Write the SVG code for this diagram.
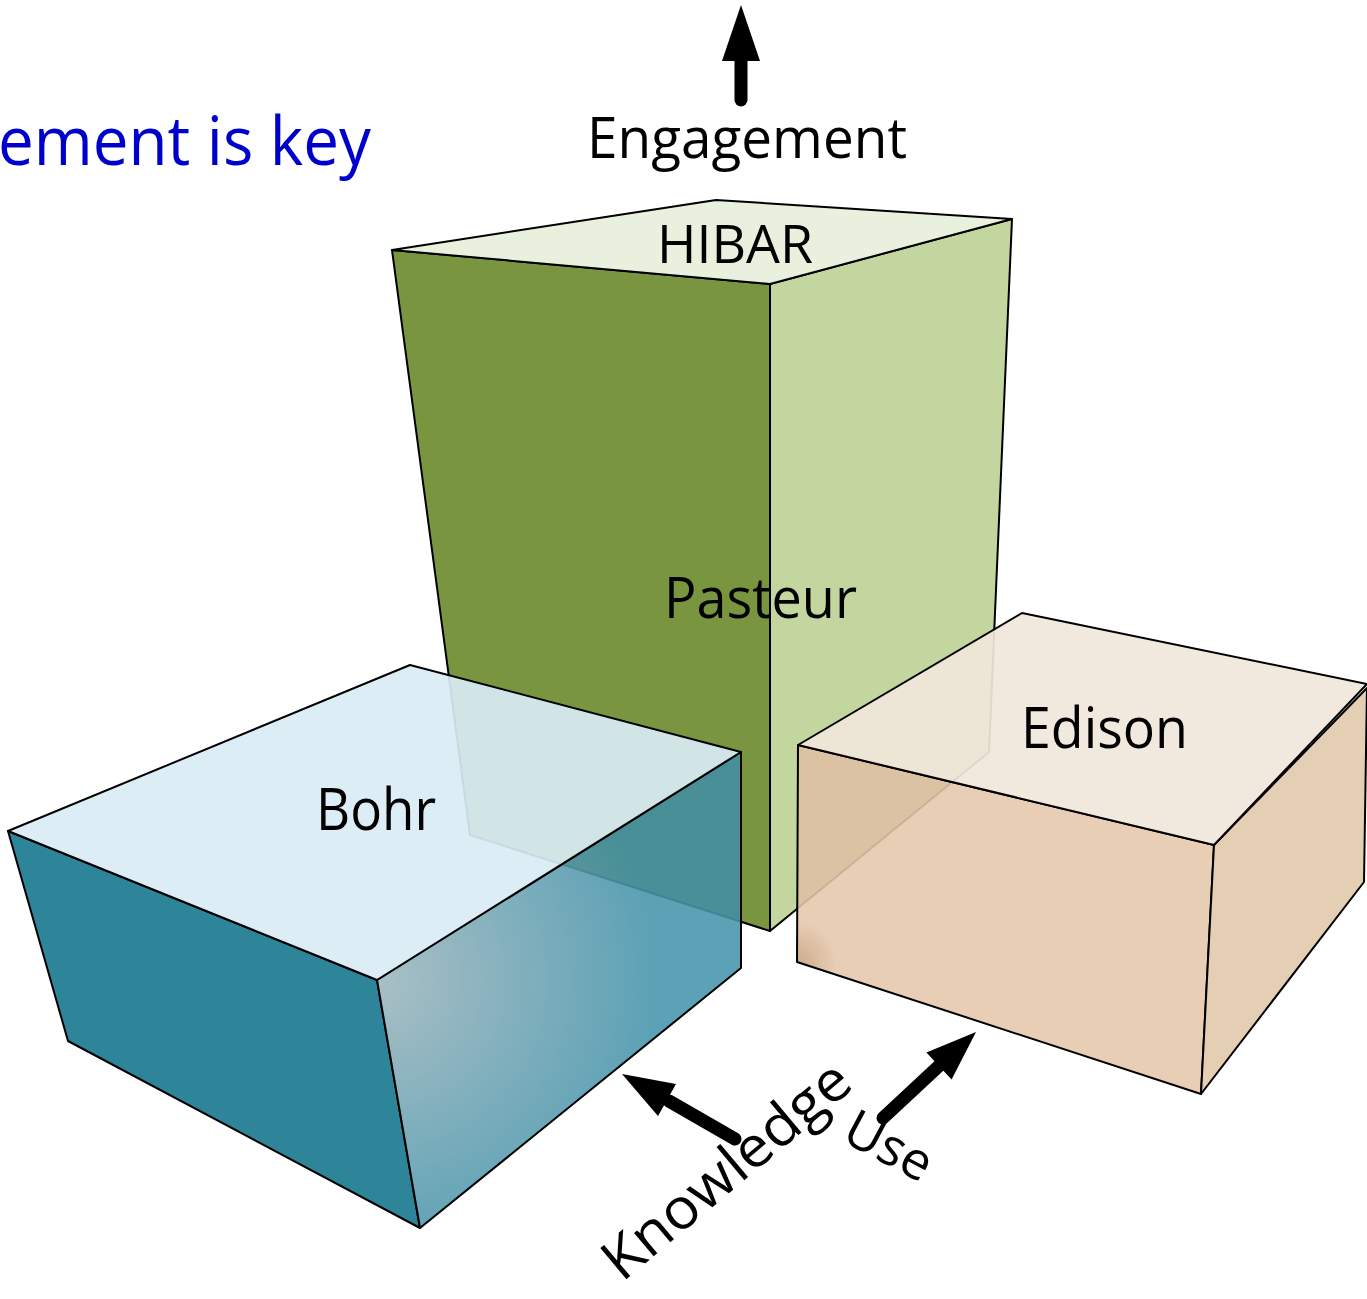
<svg xmlns="http://www.w3.org/2000/svg" width="1367" height="1299" viewBox="0 0 1367 1299">
<style>
.edge{stroke:#000;stroke-width:2;stroke-linejoin:round}
.lbl{font-family:"Open Sans","Liberation Sans",sans-serif;fill:#000}
.arr{stroke:#000;stroke-width:13;stroke-linecap:round;fill:none}
.head{fill:#000}
</style>
<defs>
<radialGradient id="bohrRight" gradientUnits="userSpaceOnUse" cx="378" cy="980" r="280">
<stop offset="0" stop-color="#a0b8bf"/>
<stop offset="1" stop-color="#4a97ad"/>
</radialGradient>
<radialGradient id="edisonSmudge" gradientUnits="userSpaceOnUse" cx="797" cy="962" r="40">
<stop offset="0" stop-color="#a87a52" stop-opacity="0.4"/>
<stop offset="1" stop-color="#a87a52" stop-opacity="0"/>
</radialGradient>
<clipPath id="clipBohrRight"><polygon points="377,980 741,752 741,968 420,1228"/></clipPath>
<clipPath id="clipEdisonFront"><polygon points="798,745 1214,845 1201,1094 797,962"/></clipPath>
</defs>
<rect width="1367" height="1299" fill="#fff"/>

<text class="lbl" x="-2" y="165" font-size="67" style="fill:#0000cc" textLength="373" lengthAdjust="spacingAndGlyphs">ement is key</text>

<g id="pasteur">
<polygon class="edge" points="392,250 770,284 770,931 470,835" fill="#7a9540"/>
<polygon class="edge" points="770,284 1012,219 989,752 770,931" fill="#c4d6a0"/>
<polygon class="edge" points="392,250 716,200 1012,219 770,284" fill="#e9f0dd"/>
<text class="lbl" x="657" y="263" font-size="53" textLength="156" lengthAdjust="spacingAndGlyphs">HIBAR</text>
<text class="lbl" x="664" y="618" font-size="57" textLength="193" lengthAdjust="spacingAndGlyphs">Pasteur</text>
</g>

<g id="edison">
<polygon points="798,745 1214,845 1201,1094 797,962" fill="#e4c9ad" fill-opacity="0.9"/>
<g clip-path="url(#clipEdisonFront)">
<polygon points="770,284 1012,219 989,752 770,931" fill="#8a6038" fill-opacity="0.07"/>
<rect x="770" y="900" width="80" height="80" fill="url(#edisonSmudge)"/>
</g>
<polygon class="edge" points="798,745 1214,845 1201,1094 797,962" fill="none"/>
<polygon class="edge" points="1214,845 1367,688 1364,882 1201,1094" fill="#e4ceb4"/>
<polygon class="edge" points="798,745 1022,613 1367,684 1214,845" fill="#f0e7dc" fill-opacity="0.93"/>
<text class="lbl" x="1021" y="748" font-size="57" textLength="167" lengthAdjust="spacingAndGlyphs">Edison</text>
</g>

<g id="bohr">
<polygon class="edge" points="8,831 377,980 420,1228 68,1041" fill="#2e8599"/>
<polygon points="377,980 741,752 741,968 420,1228" fill="url(#bohrRight)" fill-opacity="0.9"/>
<g clip-path="url(#clipBohrRight)">
<polygon points="392,250 770,284 770,931 470,835" fill="#1f5a55" fill-opacity="0.13"/>
</g>
<polygon class="edge" points="377,980 741,752 741,968 420,1228" fill="none"/>
<polygon class="edge" points="8,831 410,665 741,752 377,980" fill="#d9ecf4" fill-opacity="0.92"/>
<text class="lbl" x="316" y="830" font-size="59" textLength="120" lengthAdjust="spacingAndGlyphs">Bohr</text>
</g>

<g id="axes">
<line class="arr" x1="741" y1="100" x2="741" y2="58"/>
<polygon class="head" points="741,5 760,61 722,61"/>
<text class="lbl" x="587" y="158" font-size="57" textLength="320" lengthAdjust="spacingAndGlyphs">Engagement</text>

<line class="arr" x1="735" y1="1139" x2="669" y2="1101"/>
<polygon class="head" points="622,1074 676,1084 658,1116"/>
<text class="lbl" font-size="57" transform="translate(622,1283) rotate(-40)" textLength="305" lengthAdjust="spacingAndGlyphs">Knowledge</text>

<line class="arr" x1="883" y1="1118" x2="941" y2="1064"/>
<polygon class="head" points="976,1032 951.6,1079.6 926.4,1052.4"/>
<text class="lbl" font-size="52" transform="translate(840,1140) rotate(28)" textLength="92" lengthAdjust="spacingAndGlyphs">Use</text>
</g>
</svg>
